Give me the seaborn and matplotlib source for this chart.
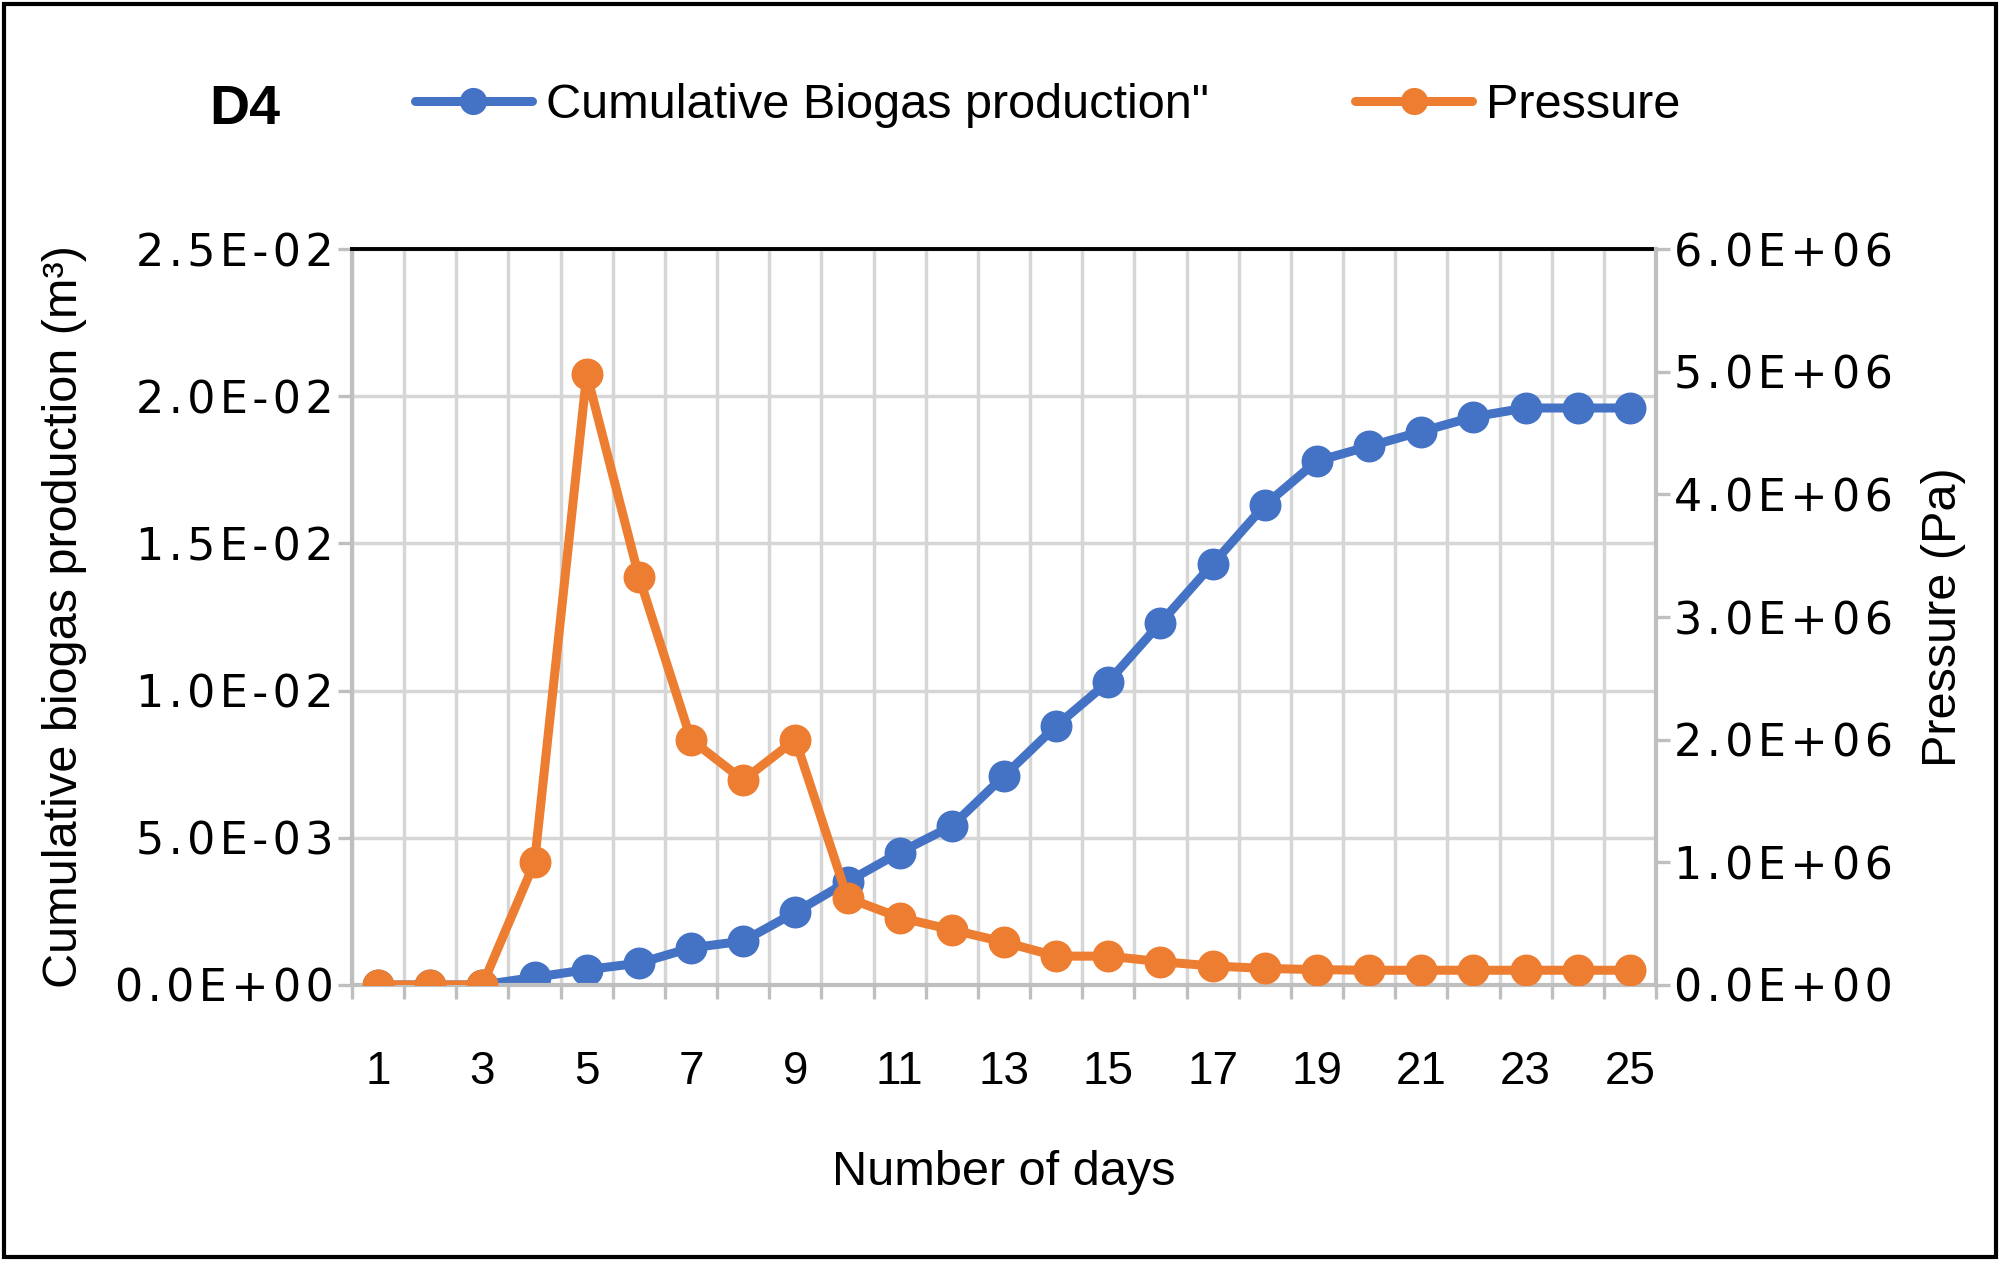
import matplotlib
matplotlib.use('Agg')
import matplotlib.pyplot as plt
import seaborn as sns
import numpy as np
import pandas as pd
from matplotlib.ticker import FuncFormatter, FixedLocator
from matplotlib.patches import Rectangle

# ---- data ----
days = list(range(1, 26))
biogas = [0, 0, 0, 0.00026, 0.00052, 0.00074, 0.00126, 0.00149, 0.00247, 0.00351,
          0.0045, 0.0054, 0.0071, 0.0088, 0.0103, 0.0123, 0.0143, 0.0163, 0.0178,
          0.0183, 0.0188, 0.0193, 0.0196, 0.0196, 0.0196]
pressure = [0, 0, 0, 1.0e6, 4.98e6, 3.33e6, 2.0e6, 1.67e6, 2.0e6, 0.71e6,
            0.55e6, 0.45e6, 0.35e6, 0.235e6, 0.235e6, 0.19e6, 0.155e6, 0.135e6,
            0.125e6, 0.12e6, 0.12e6, 0.12e6, 0.12e6, 0.12e6, 0.12e6]
x_tick_labels = [str(d) for d in range(1, 26, 2)]
left_ticks = [0, 0.005, 0.01, 0.015, 0.02, 0.025]
right_ticks = [0, 1e6, 2e6, 3e6, 4e6, 5e6, 6e6]

series1 = "Cumulative Biogas production\""
series2 = "Pressure"

df = pd.DataFrame({"day": days, "biogas": biogas, "pressure": pressure})

sns.set_theme(style="white")
plt.rcParams['font.family'] = ['Liberation Sans', 'DejaVu Sans']
plt.rcParams['text.color'] = 'black'
plt.rcParams['axes.labelcolor'] = 'black'

BLUE = "#4472C4"
ORANGE = "#ED7D31"
GRID = "#D6D6D6"
AXIS = "#BFBFBF"
FS_X = 33
FS_Y = 32


def sci_fmt(v, p):
    # Excel-style scientific label, slightly letter-spaced like the original
    return "\u200a".join(f"{v:.1E}")


fig = plt.figure(figsize=(20, 12.61), dpi=100)
ax = fig.add_axes([0.176, 0.2189, 0.652, 0.5836])
ax2 = ax.twinx()

sns.lineplot(data=df, x="day", y="biogas", ax=ax, color=BLUE, marker="o",
             markersize=23, markeredgewidth=0, linewidth=6.5, legend=False)
sns.lineplot(data=df, x="day", y="pressure", ax=ax2, color=ORANGE, marker="o",
             markersize=23, markeredgewidth=0, linewidth=6.5, legend=False)

ax.set_xlim(0.5, 25.5)
ax.set_ylim(0, 0.025)
ax2.set_ylim(0, 6e6)

# x ticks
ax.xaxis.set_major_locator(FixedLocator(list(range(1, 26, 2))))
ax.set_xticklabels(x_tick_labels)
ax.xaxis.set_minor_locator(FixedLocator(list(np.arange(0.5, 26, 1.0))))
ax.tick_params(axis='x', which='major', length=0, pad=47, labelsize=FS_X, labelcolor='black')
ax.tick_params(axis='x', which='minor', length=10, width=2.4, color=AXIS, direction='out', bottom=True)

# y ticks
ax.set_yticks(left_ticks)
ax.yaxis.set_major_formatter(FuncFormatter(sci_fmt))
ax.tick_params(axis='y', which='major', length=10, width=2.4, color=AXIS, direction='out',
               pad=3, labelsize=FS_Y, labelcolor='black', left=True)
ax2.set_yticks(right_ticks)
ax2.yaxis.set_major_formatter(FuncFormatter(sci_fmt))
ax2.tick_params(axis='y', which='major', length=10, width=2.4, color=AXIS, direction='out',
                pad=3, labelsize=FS_Y, labelcolor='black', right=True)
fig.canvas.draw()
for lab in ax.get_yticklabels() + ax2.get_yticklabels():
    lab.set_family(['DejaVu Sans'])

# grid
ax.grid(False)
ax2.grid(False)
ax.grid(axis='y', which='major', color=GRID, linewidth=2.5)
ax.grid(axis='x', which='minor', color=GRID, linewidth=2.5)
ax.set_axisbelow(True)

# spines
for s in ['left', 'bottom']:
    ax.spines[s].set_color(AXIS)
    ax.spines[s].set_linewidth(3)
ax.spines['right'].set_visible(False)
ax.spines['top'].set_color('black')
ax.spines['top'].set_linewidth(2.8)
for s in ['left', 'bottom', 'top']:
    ax2.spines[s].set_visible(False)
ax2.spines['right'].set_color(AXIS)
ax2.spines['right'].set_linewidth(3)

# labels
ax.set_xlabel("Number of days", fontsize=35, labelpad=40)
ax.set_ylabel("Cumulative biogas production (m³)", fontsize=35, labelpad=20)
ax2.set_ylabel("Pressure (Pa)", fontsize=35, labelpad=20)

# legend
handles = [ax.lines[0], ax2.lines[0]]
fig.legend(handles, [series1, series2], loc='center', bbox_to_anchor=(0.524, 0.916),
           ncol=2, frameon=False, fontsize=35, handlelength=2.4, handletextpad=0.3,
           columnspacing=3.0, markerscale=0.85)

fig.text(0.1225, 0.913, "D4", fontsize=40, fontweight='bold', ha='center', va='center')

# outer border
fig.add_artist(Rectangle((0.002, 0.003), 0.996, 0.994, transform=fig.transFigure,
                         fill=False, edgecolor='black', linewidth=3))

fig.savefig("out.png", dpi=100)
